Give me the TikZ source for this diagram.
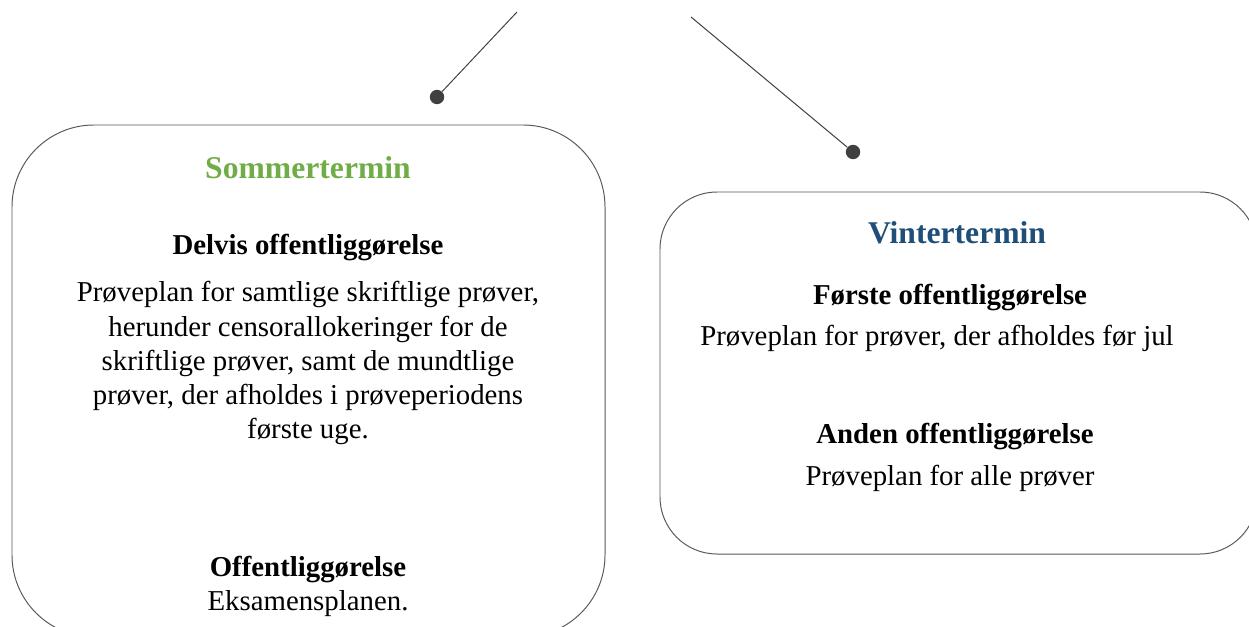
\documentclass[tikz,border=0pt]{standalone}
\usepackage{fontspec}
\setmainfont{Liberation Serif}
\definecolor{boxgray}{HTML}{595959}
\definecolor{dotgray}{HTML}{404040}
\definecolor{sommergreen}{HTML}{70AD47}
\definecolor{vinterblue}{HTML}{1F4E79}
\begin{document}
\begin{tikzpicture}[x=0.25mm,y=-0.25mm]
\tikzstyle{every node}=[font=\fontsize{20.5}{24.2}\selectfont]
\tikzstyle{termbox}=[draw=boxgray, line width=0.7pt, rectangle, inner sep=0pt]
\tikzstyle{dot}=[circle, fill=dotgray, inner sep=0pt, minimum size=3.6mm]
\tikzstyle{title}=[font=\fontsize{22.5}{26}\selectfont\bfseries]
\tikzstyle{head}=[font=\fontsize{20.5}{24.2}\selectfont\bfseries]
\tikzstyle{body}=[align=center]

\useasboundingbox (0,0) rectangle (1249,627);

\node[termbox, rounded corners=20.5mm, minimum width=148.25mm, minimum height=128mm] (sommer) at (308.5,381) {};
\node[termbox, rounded corners=14.25mm, minimum width=149.25mm, minimum height=90.5mm] (vinter) at (958.5,373) {};

\coordinate (topl) at (517,12);
\coordinate (topr) at (691,17);
\node[dot] (dl) at (437,97)  {};
\node[dot] (dr) at (853,152) {};

\draw[dotgray, line width=0.7pt] (topl) -- (dl);
\draw[dotgray, line width=0.7pt] (topr) -- (dr);

\node[title, text=sommergreen] (st) at (308,168) {Sommertermin};
\node[head] (sa) at (308,248) {Delvis offentliggørelse};
\node[body] (sb) at (308,363) {Prøveplan for samtlige skriftlige prøver,\\herunder censorallokeringer for de\\skriftlige prøver, samt de mundtlige\\prøver, der afholdes i prøveperiodens\\første uge.};
\node[head] (sc) at (308,570) {Offentliggørelse};
\node[body] (sd) at (308,604) {Eksamensplanen.};

\node[title, text=vinterblue] (vt) at (957,233) {Vintertermin};
\node[head] (va) at (950,298) {Første offentliggørelse};
\node[body] (vb) at (937,338) {Prøveplan for prøver, der afholdes før jul};
\node[head] (vc) at (955,437) {Anden offentliggørelse};
\node[body] (vd) at (950,478) {Prøveplan for alle prøver};
\end{tikzpicture}
\end{document}
